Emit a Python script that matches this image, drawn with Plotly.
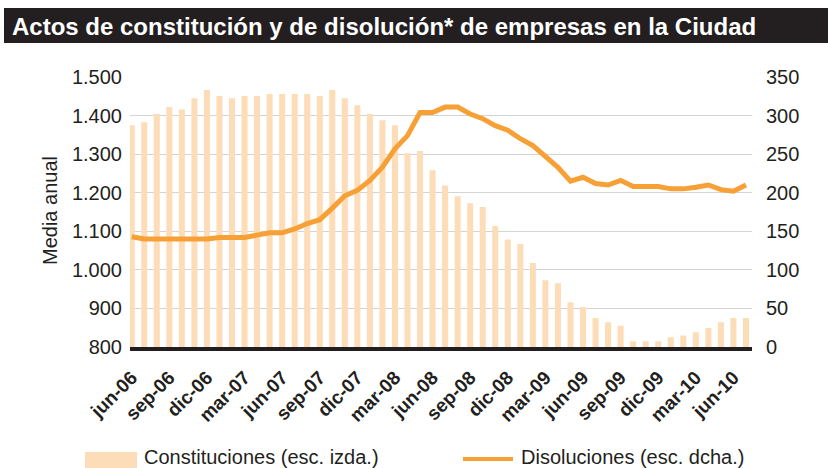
import plotly.graph_objects as go

# ---- data ----
months = ["jun-06", "jul-06", "ago-06", "sep-06", "oct-06", "nov-06", "dic-06",
          "ene-07", "feb-07", "mar-07", "abr-07", "may-07", "jun-07", "jul-07", "ago-07",
          "sep-07", "oct-07", "nov-07", "dic-07", "ene-08", "feb-08", "mar-08", "abr-08",
          "may-08", "jun-08", "jul-08", "ago-08", "sep-08", "oct-08", "nov-08", "dic-08",
          "ene-09", "feb-09", "mar-09", "abr-09", "may-09", "jun-09", "jul-09", "ago-09",
          "sep-09", "oct-09", "nov-09", "dic-09", "ene-10", "feb-10", "mar-10", "abr-10",
          "may-10", "jun-10", "jul-10"]
constituciones = [1375, 1383, 1404, 1422, 1416, 1445, 1466, 1451, 1445, 1451,
                  1451, 1456, 1456, 1456, 1456, 1451, 1466, 1445, 1427, 1404,
                  1388, 1375, 1302, 1308, 1258, 1219, 1191, 1173, 1163, 1114,
                  1079, 1067, 1018, 973, 965, 916, 903, 875, 864, 855,
                  815, 815, 815, 825, 830, 838, 849, 864, 875, 875]
disoluciones = [143, 140, 140, 140, 140, 140, 140, 142, 142, 142,
                145, 148, 148, 153, 160, 165, 180, 196, 203, 216,
                233, 257, 274, 304, 304, 311, 311, 302, 296, 287,
                281, 270, 261, 248, 233, 215, 220, 212, 210, 216,
                208, 208, 208, 205, 205, 207, 210, 204, 202, 210]
x_ticks = ["jun-06", "sep-06", "dic-06", "mar-07", "jun-07", "sep-07", "dic-07",
           "mar-08", "jun-08", "sep-08", "dic-08", "mar-09", "jun-09", "sep-09",
           "dic-09", "mar-10", "jun-10"]
left_vals = [800, 900, 1000, 1100, 1200, 1300, 1400, 1500]
left_text = ["800", "900", "1.000", "1.100", "1.200", "1.300", "1.400", "1.500"]
right_vals = [0, 50, 100, 150, 200, 250, 300, 350]
right_text = ["0", "50", "100", "150", "200", "250", "300", "350"]

title = "Actos de constitución y de disolución* de empresas en la Ciudad"
name_bar = "Constituciones (esc. izda.)"
name_line = "Disoluciones (esc. dcha.)"
y_title = "Media anual"

# ---- styling / layout ----
W, H = 828, 468
L, R, T, B = 130, 76, 77, 121
PW, PH = W - L - R, H - T - B
FONT = "Liberation Sans"
DARK = "#231f20"
BAR_C = "#fddcb8"
LINE_C = "#f7a035"


def px(xp):
    return (xp - L) / PW


def py(yp):
    return (H - B - yp) / PH


fig = go.Figure()
fig.add_trace(go.Bar(x=months, y=constituciones, name=name_bar,
                     marker=dict(color=BAR_C, line=dict(width=0)),
                     yaxis="y", showlegend=False))
fig.add_trace(go.Scatter(x=months, y=disoluciones, name=name_line, mode="lines",
                         line=dict(color=LINE_C, width=5), yaxis="y2",
                         showlegend=False))

shapes = [
    # title bar
    dict(type="rect", xref="paper", yref="paper", x0=px(4), x1=px(828),
         y0=py(43), y1=py(8), fillcolor="#231f20", line=dict(width=0), layer="above"),
    # legend swatches
    dict(type="rect", xref="paper", yref="paper", x0=px(85), x1=px(137),
         y0=py(468), y1=py(452), fillcolor=BAR_C, line=dict(width=0)),
    dict(type="line", xref="paper", yref="paper", x0=px(463), x1=px(513),
         y0=py(459), y1=py(459), line=dict(color=LINE_C, width=4)),
]

annotations = [
    dict(text="<b>" + title + "</b>", xref="paper", yref="paper", x=px(10), y=py(26),
         xanchor="left", yanchor="middle", showarrow=False,
         font=dict(family=FONT, size=24, color="white")),
    dict(text=name_bar, xref="paper", yref="paper", x=px(142), y=py(457),
         xanchor="left", yanchor="middle", showarrow=False,
         font=dict(family=FONT, size=20, color=DARK)),
    dict(text=name_line, xref="paper", yref="paper", x=px(519), y=py(457),
         xanchor="left", yanchor="middle", showarrow=False,
         font=dict(family=FONT, size=20, color=DARK)),
    dict(text=y_title, xref="paper", yref="paper", x=px(50), y=py(211),
         xanchor="center", yanchor="middle", textangle=-90, showarrow=False,
         font=dict(family=FONT, size=20, color=DARK)),
]

fig.update_layout(
    width=W, height=H,
    margin=dict(l=L, r=R, t=T, b=B, pad=0, autoexpand=False),
    paper_bgcolor="white", plot_bgcolor="white",
    font=dict(family=FONT, size=20, color=DARK),
    bargap=0.52,
    showlegend=False,
    hovermode=False,
    shapes=shapes,
    annotations=annotations,
    xaxis=dict(type="category", range=[-0.136, 49.48], tickmode="array",
               tickvals=x_ticks, ticktext=x_ticks, tickangle=-45,
               tickfont=dict(family=FONT, size=19, color=DARK, weight="bold"),
               showgrid=False, showline=True, linecolor=DARK, linewidth=4,
               ticks="", zeroline=False, ticklabelstandoff=8),
    yaxis=dict(range=[800, 1500], tickmode="array", tickvals=left_vals,
               ticktext=left_text, showgrid=True, gridcolor="#d4d4d4", gridwidth=1,
               zeroline=False, showline=False, ticks="",
               tickfont=dict(family=FONT, size=20, color=DARK), ticklabelstandoff=7),
    yaxis2=dict(range=[0, 350], tickmode="array", tickvals=right_vals,
                ticktext=right_text, overlaying="y", side="right", showgrid=False,
                zeroline=False, showline=False, ticks="",
                tickfont=dict(family=FONT, size=20, color=DARK), ticklabelstandoff=13),
)

fig.write_html("out.html", config={"displayModeBar": False},
               post_script="document.body.style.margin='0';document.body.style.padding='0';")
